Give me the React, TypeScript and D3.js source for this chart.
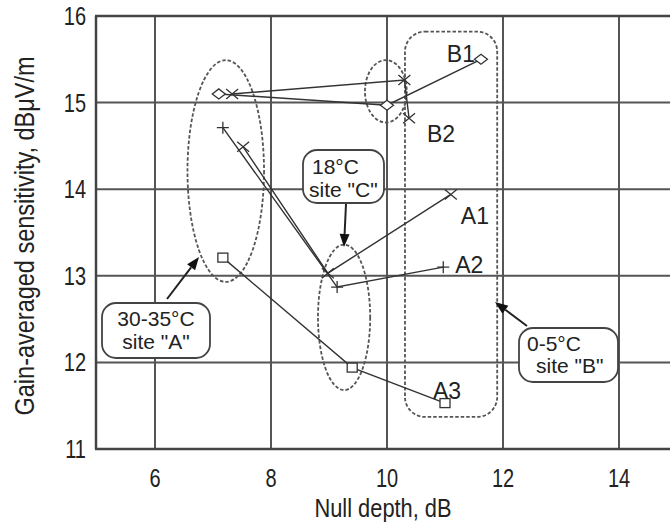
import React from "react";
import * as d3 from "d3";

// ---- data ----
const xTicks = [6, 8, 10, 12, 14];
const yTicks = [11, 12, 13, 14, 15, 16];
const seriesNames = ["B1", "B2", "A1", "A2", "A3"];
const seriesMarkers = ["diamond", "cross", "cross", "plus", "square"];
const b1X = [7.1, 10.0, 11.62];
const b1Y = [15.1, 14.97, 15.5];
const b2X = [7.33, 10.3, 10.38];
const b2Y = [15.1, 15.26, 14.82];
const a1X = [7.52, 8.98, 11.1];
const a1Y = [14.49, 13.03, 13.94];
const a2X = [7.17, 9.14, 10.97];
const a2Y = [14.71, 12.87, 13.1];
const a3X = [7.17, 9.4, 11.0];
const a3Y = [13.21, 11.94, 11.53];
const seriesXs = [b1X, b2X, a1X, a2X, a3X];
const seriesYs = [b1Y, b2Y, a1Y, a2Y, a3Y];

// group annotations (data coordinates)
const siteEllipses = [
  { cx: 7.22, cy: 14.21, rx: 0.66, ry: 1.28 },
  { cx: 9.98, cy: 15.13, rx: 0.36, ry: 0.36 },
  { cx: 9.26, cy: 12.52, rx: 0.45, ry: 0.84 },
];
const siteRect = { x0: 10.31, x1: 11.9, y0: 15.82, y1: 11.37 };
const calloutLines = [
  ["18°C", "site \"C\""],
  ["30-35°C", "site \"A\""],
  ["0-5°C", "site \"B\""],
];

const W = 670;
const H = 528;
const x = d3.scaleLinear().domain([5, 15]).range([97, 677]);
const y = d3.scaleLinear().domain([11, 16]).range([449, 16]);

const labelOffsets = [
  { dx: -6, dy: 3, anchor: "end" },
  { dx: 18, dy: 24, anchor: "start" },
  { dx: 10, dy: 30, anchor: "start" },
  { dx: 12, dy: 6, anchor: "start" },
  { dx: -12, dy: -4, anchor: "start" },
];

const callouts = [
  { box: [303, 150, 81, 53], t1: [312, 174, "start"], t2: [309, 197, "start"], arrow: [346, 204, 344, 247] },
  { box: [102, 303, 108, 55], t1: [156, 326, "middle"], t2: [156, 349, "middle"], arrow: [167, 299, 199, 257] },
  { box: [519, 328, 99, 54], t1: [527, 351, "start"], t2: [536, 373, "start"], arrow: [527, 326, 495, 302] },
];

function Marker({ type, cx, cy }: { type: string; cx: number; cy: number }) {
  const s = "#333";
  if (type === "diamond")
    return <path d={`M${cx - 6.5},${cy}L${cx},${cy - 5}L${cx + 6.5},${cy}L${cx},${cy + 5}Z`} fill="white" stroke={s} strokeWidth={1.3} />;
  if (type === "cross")
    return <path d={`M${cx - 6},${cy - 5}L${cx + 6},${cy + 5}M${cx - 6},${cy + 5}L${cx + 6},${cy - 5}`} stroke={s} strokeWidth={1.3} />;
  if (type === "plus")
    return <path d={`M${cx - 6},${cy}L${cx + 6},${cy}M${cx},${cy - 6}L${cx},${cy + 6}`} stroke={s} strokeWidth={1.3} />;
  return <rect x={cx - 5} y={cy - 4.5} width={10} height={9} fill="white" stroke={s} strokeWidth={1.3} />;
}

function Arrow({ x1, y1, x2, y2 }: { x1: number; y1: number; x2: number; y2: number }) {
  const ang = Math.atan2(y2 - y1, x2 - x1);
  const L = 13, Wd = 5;
  const bx = x2 - L * Math.cos(ang), by = y2 - L * Math.sin(ang);
  const px = -Math.sin(ang) * Wd, py = Math.cos(ang) * Wd;
  return (
    <g>
      <line x1={x1} y1={y1} x2={bx} y2={by} stroke="#222" strokeWidth={2} />
      <path d={`M${x2},${y2}L${bx + px},${by + py}L${bx - px},${by - py}Z`} fill="#111" />
    </g>
  );
}

export default function App() {
  const line = d3.line<[number, number]>().x((d) => x(d[0])).y((d) => y(d[1]));
  const sans = "'Liberation Sans', Arial, sans-serif";
  return (
    <svg width={W} height={H} style={{ position: "absolute", left: 0, top: 0, background: "white" }}>
      <defs>
        <clipPath id="plot">
          <rect x={96} y={15} width={W - 96} height={436} />
        </clipPath>
      </defs>
      {/* grid */}
      <g stroke="#555" strokeWidth={2}>
        {xTicks.map((t) => (
          <line key={"gx" + t} x1={x(t)} x2={x(t)} y1={y(16)} y2={y(11)} />
        ))}
        {yTicks.filter((t) => t !== 11 && t !== 16).map((t) => (
          <line key={"gy" + t} x1={x(5)} x2={W} y1={y(t)} y2={y(t)} />
        ))}
      </g>
      {/* frame */}
      <g stroke="#444" strokeWidth={2.5} fill="none">
        <line x1={x(5) - 1} x2={x(5) - 1} y1={y(16)} y2={y(11)} />
        <line x1={x(5) - 2} x2={W} y1={y(16)} y2={y(16)} />
        <line x1={x(5) - 2} x2={W} y1={y(11)} y2={y(11)} />
      </g>
      {/* ticks (condensed) */}
      <g fontFamily={sans} fontSize={25} fill="#222">
        {yTicks.map((t) => (
          <text key={"yt" + t} transform={`translate(86,${y(t)}) scale(0.8,1)`} dy="0.36em" textAnchor="end">{t}</text>
        ))}
        {xTicks.map((t) => (
          <text key={"xt" + t} transform={`translate(${x(t)},487) scale(0.8,1)`} textAnchor="middle">{t}</text>
        ))}
      </g>
      <text transform="translate(383,517) scale(0.84,1)" textAnchor="middle" fontFamily={sans} fontSize={26} fill="#222">Null depth, dB</text>
      <text transform="translate(34,236) rotate(-90) scale(0.87,1)" textAnchor="middle" fontFamily={sans} fontSize={27} fill="#222">Gain-averaged sensitivity, dBμV/m</text>

      <g clipPath="url(#plot)">
        {/* group annotations */}
        <g fill="none" stroke="#555" strokeWidth={1.8} strokeDasharray="3.5,2">
          {siteEllipses.map((e, i) => (
            <ellipse key={"e" + i} cx={x(e.cx)} cy={y(e.cy)} rx={x(e.cx + e.rx) - x(e.cx)} ry={y(e.cy) - y(e.cy + e.ry)} />
          ))}
          <rect x={x(siteRect.x0)} y={y(siteRect.y0)} width={x(siteRect.x1) - x(siteRect.x0)} height={y(siteRect.y1) - y(siteRect.y0)} rx={20} ry={20} />
        </g>
        {/* series */}
        {seriesNames.map((name, i) => {
          const pts = seriesXs[i].map((v, j) => [v, seriesYs[i][j]] as [number, number]);
          const last = pts[pts.length - 1];
          const off = labelOffsets[i];
          return (
            <g key={name}>
              <path d={line(pts) || ""} fill="none" stroke="#333" strokeWidth={1.4} />
              {pts.map((p, j) => (
                <Marker key={j} type={seriesMarkers[i]} cx={x(p[0])} cy={y(p[1])} />
              ))}
              <text x={x(last[0]) + off.dx} y={y(last[1]) + off.dy} textAnchor={off.anchor as any} fontFamily={sans} fontSize={23} fill="#222">{name}</text>
            </g>
          );
        })}
        {/* callouts */}
        {callouts.map((c, i) => (
          <g key={"c" + i}>
            <Arrow x1={c.arrow[0]} y1={c.arrow[1]} x2={c.arrow[2]} y2={c.arrow[3]} />
            <rect x={c.box[0]} y={c.box[1]} width={c.box[2]} height={c.box[3]} rx={14} ry={14} fill="white" stroke="#444" strokeWidth={1.8} />
            <text x={c.t1[0] as number} y={c.t1[1] as number} textAnchor={c.t1[2] as any} fontFamily={sans} fontSize={21} fill="#222">{calloutLines[i][0]}</text>
            <text x={c.t2[0] as number} y={c.t2[1] as number} textAnchor={c.t2[2] as any} fontFamily={sans} fontSize={21} fill="#222">{calloutLines[i][1]}</text>
          </g>
        ))}
      </g>
    </svg>
  );
}
